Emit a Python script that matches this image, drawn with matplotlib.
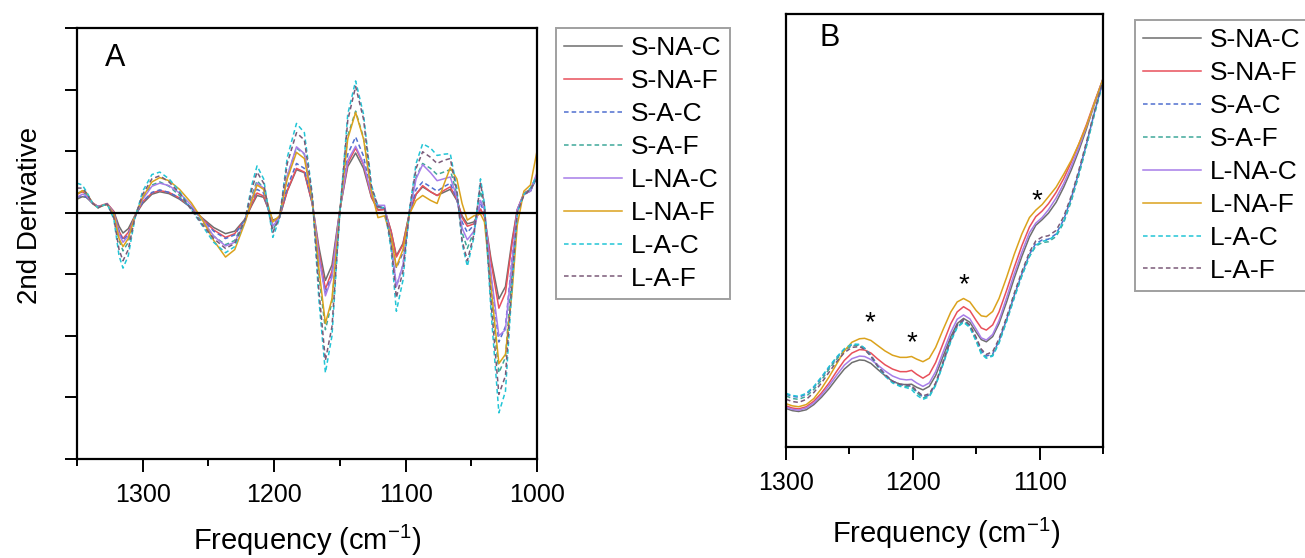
import numpy as np
import matplotlib
matplotlib.use("Agg")
import matplotlib.pyplot as plt
from matplotlib.ticker import MultipleLocator, NullFormatter

plt.rcParams['font.family'] = ['Liberation Sans', 'DejaVu Sans']
plt.rcParams['mathtext.default'] = 'regular'

names = ["S-NA-C", "S-NA-F", "S-A-C", "S-A-F", "L-NA-C", "L-NA-F", "L-A-C", "L-A-F"]
colors = ["#6e6e6e", "#e8505b", "#4f6fd0", "#3fa89a", "#a77de8", "#dba21c", "#22c5d6", "#7a5a78"]
dashed = [False, False, True, True, False, False, True, True]

# Panel A: second derivative spectra
freqA = [1350, 1346, 1343, 1338, 1334, 1330, 1327, 1322, 1318, 1315, 1311, 1306, 1300,
         1293, 1287, 1280, 1272, 1263, 1255, 1246, 1237, 1230, 1222, 1217, 1213, 1208,
         1201, 1196, 1190, 1183, 1177, 1171, 1166, 1161, 1156, 1150, 1144, 1138, 1132,
         1126, 1121, 1116, 1111, 1107, 1102, 1097, 1092, 1087, 1081, 1076, 1071, 1066,
         1061, 1057, 1053, 1048, 1043, 1040, 1035, 1029, 1024, 1019, 1015, 1010, 1005, 1000]

a_snac = [0.22, 0.26, 0.25, 0.15, 0.10, 0.12, 0.14, 0.02, -0.22, -0.33, -0.26, -0.05, 0.15,
          0.30, 0.34, 0.31, 0.22, 0.08, -0.08, -0.24, -0.34, -0.30, -0.10, 0.12, 0.28, 0.25,
          -0.12, -0.08, 0.35, 0.70, 0.65, 0.15, -0.55, -1.10, -0.85, 0.05, 0.75, 0.97, 0.72,
          0.25, 0.05, 0.06, -0.30, -0.70, -0.50, 0.00, 0.30, 0.42, 0.34, 0.28, 0.33, 0.38,
          0.20, -0.05, -0.18, -0.15, 0.05, -0.05, -0.75, -1.40, -1.20, -0.45, 0.05, 0.30, 0.35, 0.60]
a_snaf = [0.30, 0.34, 0.30, 0.16, 0.10, 0.13, 0.15, 0.02, -0.30, -0.42, -0.32, -0.06, 0.18,
          0.32, 0.36, 0.33, 0.24, 0.08, -0.09, -0.28, -0.40, -0.34, -0.10, 0.14, 0.32, 0.27,
          -0.14, -0.08, 0.36, 0.72, 0.66, 0.15, -0.62, -1.24, -0.95, 0.05, 0.80, 1.05, 0.78,
          0.26, 0.04, 0.05, -0.30, -0.72, -0.52, 0.00, 0.30, 0.44, 0.34, 0.28, 0.36, 0.42,
          0.22, -0.08, -0.22, -0.18, 0.06, -0.06, -0.80, -1.55, -1.30, -0.50, 0.05, 0.32, 0.38, 0.62]
a_sac = [0.25, 0.28, 0.26, 0.15, 0.10, 0.12, 0.14, 0.00, -0.30, -0.45, -0.35, -0.06, 0.18,
         0.33, 0.37, 0.33, 0.24, 0.08, -0.10, -0.30, -0.42, -0.36, -0.10, 0.18, 0.38, 0.32,
         -0.20, -0.08, 0.42, 0.80, 0.72, 0.15, -0.70, -1.30, -1.00, 0.03, 0.95, 1.23, 0.92,
         0.30, 0.08, 0.08, -0.38, -0.90, -0.65, 0.00, 0.38, 0.50, 0.42, 0.35, 0.42, 0.48,
         0.22, -0.15, -0.32, -0.20, 0.15, 0.00, -1.05, -2.10, -1.85, -0.75, 0.03, 0.30, 0.35, 0.58]
a_saf = [0.32, 0.34, 0.30, 0.15, 0.09, 0.12, 0.14, -0.04, -0.45, -0.62, -0.48, -0.07, 0.25,
         0.45, 0.50, 0.43, 0.28, 0.06, -0.14, -0.38, -0.52, -0.45, -0.10, 0.28, 0.52, 0.40,
         -0.28, -0.08, 0.60, 1.05, 0.95, 0.22, -1.00, -1.90, -1.45, 0.02, 1.25, 1.65, 1.22,
         0.36, 0.09, 0.08, -0.48, -1.20, -0.85, 0.03, 0.58, 0.80, 0.72, 0.62, 0.66, 0.70,
         0.30, -0.32, -0.58, -0.30, 0.35, 0.08, -1.30, -2.60, -2.35, -0.95, 0.02, 0.30, 0.38, 0.58]
a_lnac = [0.25, 0.30, 0.28, 0.15, 0.10, 0.12, 0.14, 0.00, -0.35, -0.48, -0.38, -0.06, 0.22,
          0.43, 0.48, 0.44, 0.32, 0.12, -0.10, -0.38, -0.54, -0.48, -0.14, 0.22, 0.48, 0.40,
          -0.22, -0.08, 0.60, 1.07, 0.96, 0.20, -0.70, -1.35, -1.05, 0.05, 0.85, 1.08, 0.80,
          0.30, 0.12, 0.12, -0.45, -1.20, -0.85, 0.00, 0.55, 0.78, 0.65, 0.52, 0.55, 0.58,
          0.25, -0.25, -0.44, -0.30, 0.20, 0.05, -1.00, -2.00, -1.90, -0.80, 0.05, 0.30, 0.35, 0.65]
a_lnaf = [0.30, 0.36, 0.33, 0.15, 0.08, 0.12, 0.13, -0.02, -0.42, -0.55, -0.42, -0.06, 0.25,
          0.50, 0.57, 0.52, 0.38, 0.16, -0.10, -0.45, -0.72, -0.60, -0.15, 0.20, 0.45, 0.38,
          -0.15, -0.05, 0.55, 0.98, 0.88, 0.20, -0.90, -1.80, -1.40, 0.02, 1.20, 1.63, 1.20,
          0.35, -0.08, -0.05, -0.40, -0.88, -0.60, -0.02, 0.20, 0.28, 0.20, 0.15, 0.45, 0.73,
          0.55, 0.15, -0.12, -0.05, -0.02, -0.15, -1.20, -2.45, -2.30, -1.30, -0.20, 0.35, 0.45, 1.00]
a_lac = [0.48, 0.45, 0.35, 0.15, 0.08, 0.12, 0.14, -0.10, -0.70, -0.90, -0.70, -0.10, 0.35,
         0.62, 0.66, 0.55, 0.35, 0.05, -0.20, -0.48, -0.65, -0.55, -0.10, 0.45, 0.76, 0.55,
         -0.40, -0.10, 0.90, 1.45, 1.30, 0.30, -1.40, -2.60, -2.00, 0.00, 1.60, 2.14, 1.60,
         0.45, 0.10, 0.08, -0.60, -1.60, -1.10, 0.05, 0.80, 1.12, 1.05, 0.93, 0.95, 0.96,
         0.40, -0.50, -0.87, -0.40, 0.55, 0.15, -1.60, -3.25, -2.90, -1.20, 0.00, 0.30, 0.40, 0.60]
a_laf = [0.40, 0.40, 0.32, 0.15, 0.08, 0.12, 0.14, -0.08, -0.60, -0.78, -0.60, -0.08, 0.30,
         0.55, 0.60, 0.50, 0.32, 0.05, -0.18, -0.42, -0.58, -0.50, -0.10, 0.38, 0.66, 0.48,
         -0.32, -0.08, 0.80, 1.30, 1.18, 0.28, -1.25, -2.40, -1.85, 0.00, 1.50, 2.05, 1.52,
         0.42, 0.10, 0.08, -0.52, -1.38, -0.95, 0.05, 0.72, 0.99, 0.90, 0.80, 0.85, 0.88,
         0.35, -0.45, -0.78, -0.35, 0.48, 0.12, -1.45, -2.95, -2.65, -1.10, 0.00, 0.28, 0.38, 0.55]

# Panel B: zoomed spectra 1300-1050
freqB = [1300, 1295, 1290, 1284, 1278, 1272, 1266, 1260, 1254, 1248, 1242, 1238, 1233,
         1228, 1222, 1216, 1210, 1205, 1201, 1197, 1192, 1187, 1182, 1176, 1170, 1165,
         1160, 1155, 1150, 1146, 1142, 1137, 1132, 1126, 1120, 1114, 1108, 1103, 1098,
         1093, 1087, 1081, 1075, 1069, 1063, 1057, 1050]

b_snac = [0.89, 0.84, 0.82, 0.86, 0.98, 1.15, 1.35, 1.58, 1.80, 1.95, 2.01, 2.00, 1.93,
          1.80, 1.65, 1.52, 1.45, 1.44, 1.45, 1.38, 1.32, 1.40, 1.65, 2.10, 2.55, 2.85,
          2.97, 2.88, 2.65, 2.48, 2.43, 2.55, 2.85, 3.35, 3.90, 4.40, 4.85, 5.12, 5.25,
          5.40, 5.65, 6.00, 6.40, 6.85, 7.35, 7.90, 8.50]
b_snaf = [0.95, 0.90, 0.88, 0.93, 1.06, 1.25, 1.48, 1.75, 2.00, 2.17, 2.25, 2.24, 2.17,
          2.04, 1.90, 1.80, 1.74, 1.74, 1.77, 1.68, 1.59, 1.68, 1.95, 2.40, 2.85, 3.12,
          3.24, 3.15, 2.92, 2.75, 2.70, 2.82, 3.12, 3.62, 4.15, 4.65, 5.08, 5.32, 5.45,
          5.62, 5.88, 6.20, 6.58, 7.00, 7.45, 7.95, 8.50]
b_sac = [1.22, 1.17, 1.15, 1.22, 1.38, 1.60, 1.84, 2.06, 2.25, 2.36, 2.36, 2.28, 2.12,
         1.90, 1.68, 1.52, 1.44, 1.42, 1.40, 1.28, 1.15, 1.20, 1.45, 1.95, 2.48, 2.80,
         2.92, 2.80, 2.50, 2.22, 2.10, 2.15, 2.45, 2.95, 3.50, 4.00, 4.45, 4.70, 4.78,
         4.80, 4.92, 5.25, 5.75, 6.35, 7.00, 7.70, 8.45]
b_saf = [1.18, 1.12, 1.10, 1.17, 1.33, 1.55, 1.80, 2.03, 2.23, 2.34, 2.35, 2.27, 2.10,
         1.88, 1.66, 1.50, 1.42, 1.40, 1.38, 1.26, 1.13, 1.18, 1.44, 1.94, 2.46, 2.78,
         2.90, 2.78, 2.47, 2.18, 2.06, 2.12, 2.42, 2.92, 3.46, 3.96, 4.40, 4.64, 4.72,
         4.74, 4.86, 5.18, 5.68, 6.28, 6.95, 7.65, 8.42]
b_lnac = [0.92, 0.87, 0.85, 0.90, 1.02, 1.20, 1.42, 1.66, 1.89, 2.04, 2.10, 2.09, 2.02,
          1.90, 1.76, 1.64, 1.57, 1.55, 1.56, 1.48, 1.40, 1.48, 1.74, 2.20, 2.65, 2.95,
          3.05, 2.96, 2.72, 2.52, 2.47, 2.60, 2.92, 3.45, 4.00, 4.50, 4.95, 5.17, 5.30,
          5.48, 5.75, 6.08, 6.48, 6.92, 7.40, 7.92, 8.50]
b_lnaf = [1.00, 0.95, 0.93, 0.98, 1.12, 1.35, 1.62, 1.92, 2.22, 2.42, 2.50, 2.51, 2.46,
          2.35, 2.22, 2.12, 2.07, 2.07, 2.09, 2.03, 1.97, 2.05, 2.30, 2.72, 3.12, 3.35,
          3.43, 3.35, 3.15, 3.03, 3.01, 3.13, 3.43, 3.92, 4.45, 4.92, 5.30, 5.47, 5.60,
          5.78, 6.00, 6.30, 6.62, 7.00, 7.42, 7.92, 8.50]
b_lac = [1.24, 1.19, 1.17, 1.24, 1.40, 1.62, 1.86, 2.08, 2.27, 2.38, 2.37, 2.28, 2.10,
         1.87, 1.64, 1.48, 1.40, 1.37, 1.33, 1.20, 1.10, 1.16, 1.42, 1.92, 2.44, 2.76,
         2.88, 2.76, 2.44, 2.15, 2.05, 2.10, 2.40, 2.90, 3.44, 3.95, 4.40, 4.66, 4.75,
         4.78, 4.90, 5.22, 5.72, 6.32, 6.98, 7.68, 8.44]
b_laf = [1.10, 1.05, 1.03, 1.10, 1.26, 1.48, 1.73, 1.97, 2.18, 2.30, 2.32, 2.25, 2.10,
         1.88, 1.67, 1.52, 1.45, 1.44, 1.42, 1.30, 1.18, 1.23, 1.48, 1.98, 2.50, 2.82,
         2.94, 2.82, 2.53, 2.26, 2.14, 2.20, 2.50, 3.00, 3.55, 4.05, 4.50, 4.76, 4.85,
         4.88, 5.00, 5.32, 5.80, 6.40, 7.05, 7.73, 8.46]

star_freq = [1234, 1201, 1160, 1102]
star_val = [2.86, 2.40, 3.74, 5.67]

seriesA = [a_snac, a_snaf, a_sac, a_saf, a_lnac, a_lnaf, a_lac, a_laf]
seriesB = [b_snac, b_snaf, b_sac, b_saf, b_lnac, b_lnaf, b_lac, b_laf]

fig = plt.figure(figsize=(13.05, 5.58), dpi=100)
W, H = 1305, 558
axA = fig.add_axes([77 / W, 1 - 459 / H, 460 / W, 431 / H])
axB = fig.add_axes([786 / W, 1 - 447 / H, 317 / W, 433 / H])

for ax, fr, ss in [(axA, freqA, seriesA), (axB, freqB, seriesB)]:
    for name, col, d, ys in zip(names, colors, dashed, ss):
        ls = (0, (3, 2)) if d else '-'
        ax.plot(fr, ys, color=col, lw=1.1, ls=ls, label=name)
    for sp in ax.spines.values():
        sp.set_linewidth(1.6)
    ax.tick_params(which='major', direction='out', length=9, width=1.4, labelsize=18, pad=8)
    ax.tick_params(which='minor', direction='out', length=5, width=1.4)

axA.axhline(0, color='black', lw=1.6)
axA.set_xlim(1350, 1000)
axA.set_ylim(-4, 3)
axA.xaxis.set_major_locator(MultipleLocator(100))
axA.xaxis.set_minor_locator(MultipleLocator(50))
axA.yaxis.set_major_locator(MultipleLocator(1))
axA.yaxis.set_major_formatter(NullFormatter())
axA.text(0.06, 0.93, "A", transform=axA.transAxes, fontsize=22, va='center')

axB.set_xlim(1300, 1050)
axB.set_ylim(0, 10)
axB.xaxis.set_major_locator(MultipleLocator(100))
axB.xaxis.set_minor_locator(MultipleLocator(50))
axB.set_yticks([])
axB.text(0.107, 0.945, "B", transform=axB.transAxes, fontsize=22, va='center')
for f, v in zip(star_freq, star_val):
    axB.text(f, v, "*", fontsize=20, ha='center', va='center')

fig.text(30 / W, 1 - 215 / H, "2nd Derivative", rotation=90, fontsize=20,
         ha='center', va='center')
fig.text(307 / W, 1 - 550 / H, "Frequency (cm$^{-1}$)", fontsize=21,
         ha='center', va='baseline')
fig.text(946 / W, 1 - 543 / H, "Frequency (cm$^{-1}$)", fontsize=21,
         ha='center', va='baseline')

for ax, x0, y0 in [(axA, 556, 28), (axB, 1135, 20)]:
    leg = ax.legend(loc='upper left', bbox_to_anchor=(x0 / W, 1 - y0 / H),
                    bbox_transform=fig.transFigure, fontsize=19, frameon=True,
                    fancybox=False, borderaxespad=0, labelspacing=0.34,
                    handlelength=2.2, handletextpad=0.35, borderpad=0.3)
    leg.get_frame().set_edgecolor('#888888')
    leg.get_frame().set_linewidth(1.4)

fig.savefig("out.png", dpi=100)
